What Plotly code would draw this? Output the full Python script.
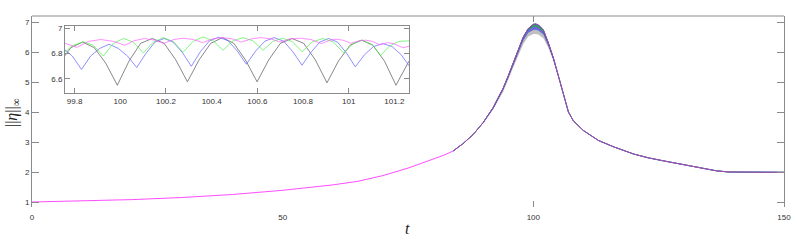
import plotly.graph_objects as go

# ---------------- main curve (all four runs overlap except near the peak) ----------------
t_main = [0, 10, 20, 30, 40, 50, 60, 65, 70, 75, 80, 82, 84, 86, 88, 90, 92, 94, 95, 96,
          97, 98, 99, 100, 100.5, 101, 102, 103, 104, 105, 106, 107, 108, 110, 113, 116,
          120, 123, 126, 130, 133, 136.5, 139, 145, 150]
eta_main = [1.0, 1.04, 1.08, 1.15, 1.25, 1.39, 1.57, 1.69, 1.88, 2.13, 2.42, 2.55, 2.7,
            2.95, 3.25, 3.65, 4.15, 4.8, 5.2, 5.65, 6.1, 6.5, 6.78, 6.92, 6.93, 6.9, 6.73,
            6.3, 5.8, 5.2, 4.55, 4.0, 3.7, 3.38, 3.05, 2.84, 2.6, 2.47, 2.37, 2.25, 2.15,
            2.04, 2.0, 1.99, 1.99]

# lower envelopes of the fast oscillation near the peak
t_band = [90, 92, 94, 96, 98, 99, 100, 100.5, 101, 102, 103, 104, 105]
black_low = [3.62, 4.08, 4.68, 5.48, 6.27, 6.52, 6.6, 6.6, 6.58, 6.46, 6.13, 5.7, 5.16]
blue_low = [3.63, 4.11, 4.73, 5.56, 6.38, 6.64, 6.73, 6.74, 6.72, 6.58, 6.2, 5.74, 5.18]
green_low = [3.64, 4.13, 4.77, 5.61, 6.45, 6.73, 6.84, 6.85, 6.82, 6.66, 6.26, 5.77, 5.19]

# ---------------- inset (zoom on the peak) ----------------
t_black = [99.733, 99.784, 99.835, 99.886, 99.936, 99.987, 100.038, 100.089, 100.14, 100.192,
           100.243, 100.294, 100.345, 100.396, 100.447, 100.497, 100.548, 100.599, 100.650,
           100.701, 100.752, 100.803, 100.854, 100.905, 100.955, 101.006, 101.056, 101.106,
           101.157, 101.207, 101.258, 101.30]
eta_black = [6.725, 6.846, 6.89, 6.846, 6.725, 6.551, 6.74, 6.88, 6.918, 6.88, 6.75, 6.578,
             6.75, 6.88, 6.925, 6.88, 6.75, 6.578, 6.75, 6.88, 6.918, 6.88, 6.75, 6.57, 6.74,
             6.865, 6.905, 6.865, 6.74, 6.551, 6.72, 6.85]

t_blue = [99.71, 99.75, 99.79, 99.83, 99.87, 99.91, 99.951, 99.991, 100.032, 100.072, 100.112,
          100.152, 100.192, 100.231, 100.271, 100.311, 100.351, 100.391, 100.431, 100.472,
          100.512, 100.552, 100.593, 100.633, 100.674, 100.715, 100.755, 100.796, 100.835,
          100.874, 100.912, 100.951, 100.990, 101.029, 101.069, 101.109, 101.149, 101.19,
          101.23, 101.27]
eta_blue = [6.87, 6.84, 6.78, 6.675, 6.78, 6.84, 6.873, 6.84, 6.78, 6.69, 6.80, 6.89, 6.918,
            6.89, 6.81, 6.70, 6.815, 6.90, 6.928, 6.90, 6.82, 6.716, 6.82, 6.897, 6.925, 6.897,
            6.815, 6.708, 6.81, 6.89, 6.918, 6.89, 6.805, 6.695, 6.79, 6.855, 6.878, 6.855,
            6.79, 6.69]

t_green = [99.75, 99.794, 99.838, 99.882, 99.926, 99.97, 100.014, 100.057, 100.101, 100.145,
           100.188, 100.232, 100.275, 100.319, 100.362, 100.406, 100.45, 100.494, 100.537,
           100.581, 100.625, 100.668, 100.71, 100.753, 100.796, 100.84, 100.887, 100.933,
           100.978, 101.018, 101.059, 101.1, 101.14, 101.18, 101.22, 101.27]
eta_green = [6.80, 6.865, 6.892, 6.865, 6.78, 6.88, 6.918, 6.89, 6.805, 6.89, 6.925, 6.895,
             6.81, 6.895, 6.93, 6.9, 6.826, 6.9, 6.925, 6.9, 6.826, 6.895, 6.92, 6.895, 6.813,
             6.89, 6.918, 6.89, 6.805, 6.875, 6.905, 6.875, 6.785, 6.86, 6.895, 6.90]

t_magenta = [99.75, 99.81, 99.86, 99.915, 99.97, 100.02, 100.06, 100.105, 100.15, 100.19,
             100.235, 100.275, 100.32, 100.36, 100.405, 100.445, 100.49, 100.53, 100.575,
             100.615, 100.66, 100.70, 100.745, 100.79, 100.835, 100.88, 100.92, 100.945,
             100.975, 101.01, 101.045, 101.075, 101.105, 101.137, 101.17, 101.2, 101.238, 101.27]
eta_magenta = [6.885, 6.848, 6.895, 6.91, 6.895, 6.865, 6.9, 6.918, 6.905, 6.88, 6.91, 6.92,
               6.91, 6.886, 6.915, 6.925, 6.915, 6.89, 6.915, 6.925, 6.915, 6.89, 6.915, 6.92,
               6.91, 6.878, 6.905, 6.912, 6.905, 6.88, 6.9, 6.905, 6.895, 6.868, 6.885, 6.875,
               6.845, 6.86]

x_tick_labels_main = [0, 50, 100, 150]

# ---------------- figure ----------------
fig = go.Figure()

upper = [eta_main[t_main.index(t)] for t in t_band]
for low, col in [(black_low, "rgba(0,0,0,0.25)"), (blue_low, "rgba(0,0,255,0.45)"),
                 (green_low, "rgba(0,210,0,0.6)")]:
    fig.add_trace(go.Scatter(x=t_band + t_band[::-1], y=upper + low[::-1], fill="toself",
                             fillcolor=col, line=dict(width=0), mode="lines",
                             hoverinfo="skip", xaxis="x", yaxis="y"))

sub_t = [t for t in t_main if t >= 84]
sub_eta = [e for t, e in zip(t_main, eta_main) if t >= 84]
for col in ["rgba(0,0,0,0.6)", "blue", "lime"]:
    fig.add_trace(go.Scatter(x=sub_t, y=sub_eta, mode="lines",
                             line=dict(color=col, width=0.8), xaxis="x", yaxis="y"))
fig.add_trace(go.Scatter(x=t_main, y=eta_main, mode="lines",
                         line=dict(color="magenta", width=0.8), opacity=0.88,
                         xaxis="x", yaxis="y"))

# dummy for overlay tick axis
fig.add_trace(go.Scatter(x=[], y=[], xaxis="x2", yaxis="y"))

# inset traces
for tt, ee, col in [(t_black, eta_black, "#555555"), (t_blue, eta_blue, "#6060ff"),
                    (t_green, eta_green, "#50f050"), (t_magenta, eta_magenta, "#ff60ff")]:
    fig.add_trace(go.Scatter(x=tt, y=ee, mode="lines", line=dict(color=col, width=0.7),
                             xaxis="x3", yaxis="y2"))
fig.add_trace(go.Scatter(x=[], y=[], xaxis="x4", yaxis="y2"))

tickfont = dict(family="Liberation Sans, Arial, sans-serif", size=8, color="#333333")
spine = "#8a8a8a"

fig.update_layout(
    width=797, height=242,
    margin=dict(l=32, r=13, t=16, b=35, autoexpand=False),
    plot_bgcolor="white", paper_bgcolor="white",
    showlegend=False,
    xaxis=dict(domain=[0, 1], range=[0, 150], tickvals=x_tick_labels_main, ticks="",
               showline=False, showgrid=False, zeroline=False, tickfont=tickfont,
               anchor="y", automargin=False, ticklabelstandoff=4),
    xaxis2=dict(overlaying="x", range=[0, 150], tickvals=[0, 100], ticks="inside",
                ticklen=6, tickcolor=spine, mirror="ticks", showline=False,
                showticklabels=False, showgrid=False, zeroline=False, anchor="y",
                side="bottom", automargin=False),
    yaxis=dict(domain=[0, 1], range=[0.8333, 7.2], tick0=1, dtick=1, ticks="inside",
               ticklen=7, tickcolor=spine, mirror="ticks", showline=True, linecolor=spine,
               linewidth=1, showgrid=False, zeroline=False, tickfont=tickfont, anchor="x",
               automargin=False),
    xaxis3=dict(domain=[0.0439, 0.5013], range=[99.758, 101.264], tick0=99.8, dtick=0.2,
                ticks="", showline=True, mirror=True, linecolor=spine, linewidth=1,
                showgrid=False, zeroline=False, tickfont=tickfont, anchor="y2",
                automargin=False),
    xaxis4=dict(overlaying="x3", range=[99.758, 101.264], tick0=99.8, dtick=0.4,
                ticks="inside", ticklen=5, tickcolor=spine, mirror="ticks",
                showline=False, showticklabels=False, showgrid=False, zeroline=False,
                anchor="y2", automargin=False),
    yaxis2=dict(domain=[0.5969, 0.9476], range=[6.49, 7.016], tick0=6.6, dtick=0.2,
                ticks="inside", ticklen=5, tickcolor=spine, mirror="ticks", showline=True,
                linecolor=spine, linewidth=1, showgrid=False, zeroline=False,
                tickfont=tickfont, anchor="x3", automargin=False),
    shapes=[dict(type="line", xref="paper", yref="paper", x0=0, x1=1, y0=1, y1=1,
                 line=dict(color=spine, width=1))],
    annotations=[
        dict(text="||<i>η</i>||<sub>∞</sub>", xref="paper", yref="paper",
             x=-0.0266, y=0.497, xanchor="center", yanchor="middle", textangle=-90,
             showarrow=False,
             font=dict(family="Liberation Serif, DejaVu Serif, serif", size=16, color="#222")),
        dict(text="<i>t</i>", xref="paper", yref="paper", x=0.4987, y=-0.115,
             xanchor="center", yanchor="middle", showarrow=False,
             font=dict(family="Liberation Serif, DejaVu Serif, serif", size=16, color="#222")),
    ],
)

fig.write_html("out.html", config={"displayModeBar": False},
               post_script="document.body.style.margin='0px';document.body.style.overflow='hidden';")
